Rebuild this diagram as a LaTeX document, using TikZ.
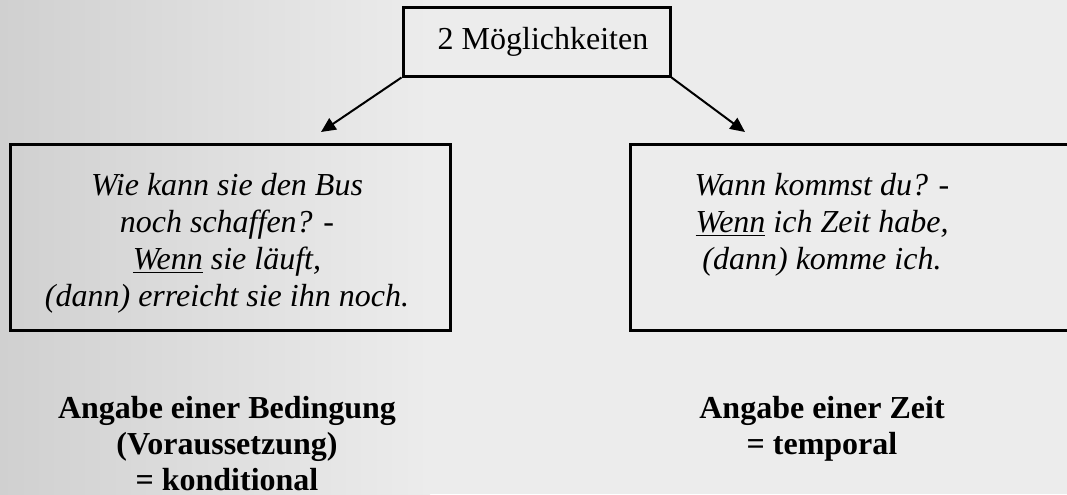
\documentclass[tikz,border=0pt]{standalone}
\usepackage{fontspec}
\setmainfont{Liberation Serif}
\usetikzlibrary{arrows.meta}
\begin{document}
\begin{tikzpicture}[x=0.75pt,y=0.75pt,yscale=-1,xscale=1,
  boxframe/.style={draw, line width=2.25pt, inner sep=0pt},
  casetext/.style={inner sep=0pt, anchor=north, align=center, font=\fontsize{24pt}{27.75pt}\selectfont\itshape},
  sumtext/.style={inner sep=0pt, anchor=north, align=center, font=\fontsize{24pt}{27pt}\selectfont\bfseries},
  branch/.style={line width=1.5pt, -{Triangle[length=11pt,width=10pt]}}]
\useasboundingbox (0,0) rectangle (1067,494);

%background
\fill [color={rgb, 255:red, 236; green, 236; blue, 236 }] (0,0) rectangle (1067,494);
\shade [left color={rgb, 255:red, 208; green, 208; blue, 208 }, right color={rgb, 255:red, 236; green, 236; blue, 236 }] (0,0) rectangle (430,494);

\node (top) at (536.5,41.5) [boxframe, minimum width=200.25pt, minimum height=51.75pt] {};
\node (toptxt) at (543,42) [font=\fontsize{24pt}{27.75pt}\selectfont] {2 Möglichkeiten};

\node (lbox) at (230,237) [boxframe, minimum width=330pt, minimum height=139.5pt] {};
\node (rbox) at (855,237) [boxframe, minimum width=337.5pt, minimum height=139.5pt] {};

\coordinate (ltip) at (321,132);
\coordinate (rtip) at (745,132);
\draw [branch] (top.south west) -- (ltip);
\draw [branch] (top.south east) -- (rtip);

\node (ltxt) at (227,173) [casetext] {Wie kann sie den Bus\\noch schaffen? -\\\underline{Wenn} sie läuft,\\(dann) erreicht sie ihn noch.};
\node (rtxt) at (822,173) [casetext] {Wann kommst du? -\\\underline{Wenn} ich Zeit habe,\\(dann) komme ich.};

\node (lsum) at (227,396) [sumtext] {Angabe einer Bedingung\\(Voraussetzung)\\= konditional};
\node (rsum) at (822,396) [sumtext] {Angabe einer Zeit\\= temporal};

\end{tikzpicture}
\end{document}
